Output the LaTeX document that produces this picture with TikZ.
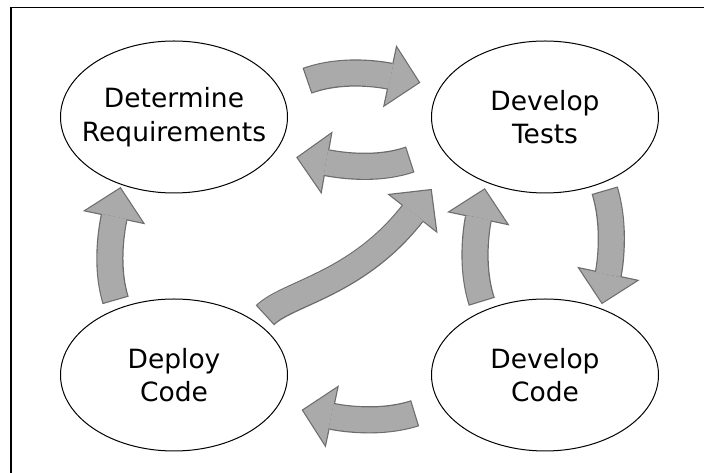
\documentclass[tikz,border=0pt]{standalone}
\usepackage{fontspec}
\usetikzlibrary{arrows.meta,shapes.geometric}
\newfontfamily\stagefont{DejaVu Sans}
\definecolor{flowfill}{RGB}{170,170,170}
\definecolor{flowedge}{RGB}{108,108,108}
\tikzset{
  % negative xsep keeps the long label from widening the ellipse
  stage/.style={draw, ellipse, line width=1pt, minimum width=227pt,
    minimum height=152pt, inner xsep=-20pt, inner ysep=0pt, align=center,
    font=\stagefont\fontsize{26.5pt}{33.5pt}\selectfont},
  % fat grey arrow: light body on top of a slightly wider dark one
  flow/.style 2 args={draw=flowfill, line width=24.8pt,
    -{Triangle[length=28.5pt, width=58pt, line width=0pt]},
    shorten <=#1, shorten >=#2,
    preaction={draw=flowedge, line width=27.2pt,
      -{Triangle[length=31.4pt, width=63.8pt, line width=0pt]},
      shorten <=#1-1.2pt, shorten >=#2-1.7pt}}
}
\begin{document}
\begin{tikzpicture}[x=1pt, y=1pt]
    \useasboundingbox (0,0) rectangle (704,473);
    \draw[line width=1.2pt] (11,0) -- (11,465.7) -- (704,465.7);

    \node[stage] (req) at (174,356) {Determine\\Requirements};
    \node[stage] (tests) at (545,356) {Develop\\Tests};
    \node[stage] (deploy) at (174,98) {Deploy\\Code};
    \node[stage] (code) at (545,98) {Develop\\Code};

    % top pair
    \draw[flow={29pt}{22pt}] (req.14) .. controls +(20:66) and +(168:59) .. (tests.164);
    \draw[flow={34pt}{24pt}] (tests.197) .. controls +(199:71) and +(350:61) .. (req.340);
    % sides
    \draw[flow={9.5pt}{4pt}] (deploy.130) .. controls +(107:46) and +(258:41) .. (req.232);
    \draw[flow={10pt}{7.5pt}] (code.133) .. controls +(108:47) and +(258:44) .. (tests.228);
    \draw[flow={8.7pt}{6pt}] (tests.311) .. controls +(287:46) and +(78:43) .. (code.50);
    % bottom and diagonal
    \draw[flow={27.5pt}{25pt}] (code.196) .. controls +(198:64) and +(348:62) .. (deploy.344);
    \draw[flow={11.8pt}{35.9pt}] (deploy.32) .. controls +(45:42) and +(232:156) .. (tests.206);
\end{tikzpicture}
\end{document}
